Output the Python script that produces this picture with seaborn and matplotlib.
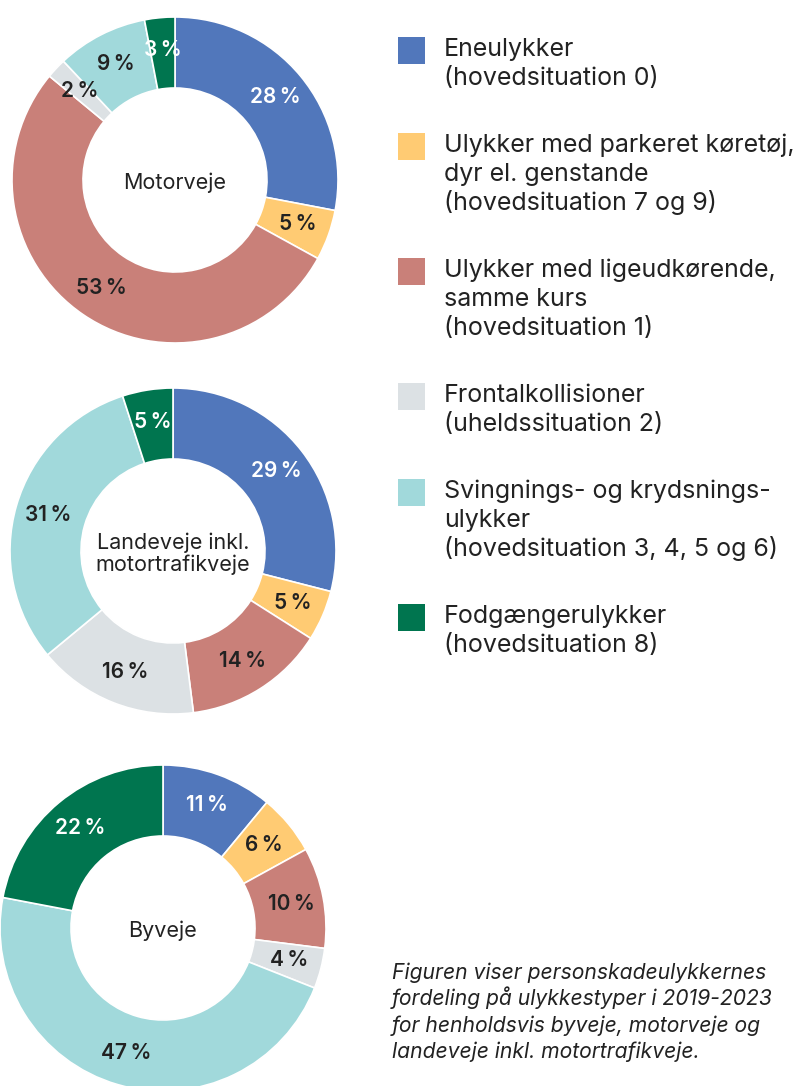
import matplotlib
matplotlib.use("Agg")
import matplotlib.pyplot as plt
import seaborn as sns
import numpy as np

# ---------------- data ----------------
categories = [
    "Eneulykker\n(hovedsituation 0)",
    "Ulykker med parkeret køretøj,\ndyr el. genstande\n(hovedsituation 7 og 9)",
    "Ulykker med ligeudkørende,\nsamme kurs\n(hovedsituation 1)",
    "Frontalkollisioner\n(uheldssituation 2)",
    "Svingnings- og krydsnings-\nulykker\n(hovedsituation 3, 4, 5 og 6)",
    "Fodgængerulykker\n(hovedsituation 8)",
]
motorveje = [28, 5, 53, 2, 9, 3]
landeveje = [29, 5, 14, 16, 31, 5]
byveje = [11, 6, 10, 4, 47, 22]
chart_titles = ["Motorveje", "Landeveje inkl.\nmotortrafikveje", "Byveje"]
caption = ("Figuren viser personskadeulykkernes\n"
           "fordeling på ulykkestyper i 2019-2023\n"
           "for henholdsvis byveje, motorveje og\n"
           "landeveje inkl. motortrafikveje.")

colors = ["#5177bb", "#ffcb73", "#c98079", "#dce1e4", "#a1d9db", "#00754f"]
label_colors = ["white", "#222222", "#222222", "#222222", "#222222", "white"]

# ---------------- style ----------------
sns.set_theme(style="white")
plt.rcParams["font.family"] = ["Inter", "DejaVu Sans"]
palette = sns.color_palette(colors)
TXT = "#222222"

W, H = 812, 1086
fig = plt.figure(figsize=(W / 100, H / 100), dpi=100)
fig.patch.set_facecolor("white")


def fx(x):
    return x / W


def fy(y):
    return 1 - y / H


# donut geometry (pixel centres and radius)
centres = [(175, 180), (173, 551), (163, 928)]
R = 163
inner = 92 / 163

for vals, title, (cx, cy) in zip([motorveje, landeveje, byveje], chart_titles, centres):
    ax = fig.add_axes([fx(cx - R), fy(cy + R), 2 * R / W, 2 * R / H])
    ax.pie(vals, colors=palette, startangle=90, counterclock=False, radius=1,
           wedgeprops=dict(width=1 - inner, edgecolor="white", linewidth=1.2))
    ax.set_xlim(-1, 1)
    ax.set_ylim(-1, 1)
    ax.set_aspect("equal")
    ax.axis("off")
    cum = np.cumsum([0] + vals[:-1])
    for v, c0, lc in zip(vals, cum, label_colors):
        ang = np.deg2rad((c0 + v / 2) / 100 * 360)
        r = 0.80
        ax.text(r * np.sin(ang), r * np.cos(ang), f"{v}\u2009%", ha="center", va="center",
                fontsize=15, fontweight="semibold", color=lc)
    ax.text(0, -0.015, title, ha="center", va="center", fontsize=15.5, color=TXT,
            linespacing=1.1)

# ---------------- legend ----------------
y = 56
step = 29
for cat, col in zip(categories, palette):
    lines = cat.split("\n")
    sq = fig.add_axes([fx(398), fy(y - 19 + 27), 27 / W, 27 / H])
    sq.set_facecolor(col)
    for s in sq.spines.values():
        s.set_visible(False)
    sq.set_xticks([])
    sq.set_yticks([])
    for i, ln in enumerate(lines):
        fig.text(fx(444), fy(y + i * step), ln, ha="left", va="baseline",
                 fontsize=18, color=TXT)
    y += len(lines) * step + 38

# ---------------- caption ----------------
for i, ln in enumerate(caption.split("\n")):
    fig.text(fx(392), fy(979 + i * 26.3), ln, ha="left", va="baseline",
             fontsize=15.2, style="italic", color=TXT)

fig.savefig("out.png", dpi=100, facecolor="white")
